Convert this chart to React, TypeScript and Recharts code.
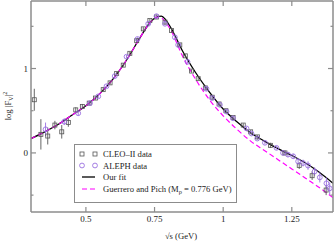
import React from "react";
import { ComposedChart, Line, Scatter, XAxis, YAxis, ErrorBar } from "recharts";

// curves (sqrt(s) in GeV, log|F_V|^2)
const fitS = [0.3, 0.35, 0.4, 0.45, 0.5, 0.55, 0.6, 0.65, 0.7, 0.73, 0.76, 0.775, 0.79, 0.81, 0.85, 0.9, 0.95, 1.0, 1.05, 1.1, 1.15, 1.2, 1.25, 1.3, 1.35, 1.4];
const fitLog = [0.17, 0.25, 0.34, 0.45, 0.56, 0.7, 0.88, 1.11, 1.38, 1.53, 1.615, 1.62, 1.58, 1.48, 1.22, 0.95, 0.72, 0.52, 0.37, 0.24, 0.14, 0.05, -0.03, -0.12, -0.23, -0.36];
const gpS = [0.3, 0.35, 0.4, 0.45, 0.5, 0.55, 0.6, 0.65, 0.7, 0.73, 0.76, 0.775, 0.79, 0.81, 0.85, 0.9, 0.95, 1.0, 1.05, 1.1, 1.15, 1.2, 1.25, 1.3, 1.35, 1.4];
const gpLog = [0.17, 0.25, 0.34, 0.45, 0.56, 0.7, 0.88, 1.11, 1.38, 1.53, 1.61, 1.6, 1.55, 1.45, 1.16, 0.87, 0.63, 0.44, 0.28, 0.14, 0.03, -0.08, -0.19, -0.3, -0.41, -0.53];

// CLEO-II points
const cleoS = [0.312, 0.336, 0.361, 0.387, 0.412, 0.436, 0.463, 0.487, 0.512, 0.535, 0.563, 0.588, 0.612, 0.636, 0.66, 0.685, 0.709, 0.733, 0.757, 0.788, 0.812, 0.842, 0.862, 0.885, 0.909, 0.935, 0.96, 0.985, 1.01, 1.036, 1.073, 1.1, 1.125, 1.172, 1.225, 1.277, 1.324, 1.375];
const cleoLog = [0.63, 0.22, 0.2, 0.33, 0.25, 0.36, 0.51, 0.55, 0.59, 0.65, 0.75, 0.83, 0.94, 1.04, 1.18, 1.33, 1.47, 1.57, 1.61, 1.55, 1.45, 1.28, 1.15, 0.97, 0.88, 0.77, 0.66, 0.58, 0.5, 0.42, 0.33, 0.25, 0.19, 0.09, 0.0, -0.15, -0.27, -0.44];
const cleoErr = [0.13, 0.18, 0.1, 0.05, 0.08, 0.05, 0.03, 0.03, 0.02, 0.02, 0.02, 0.02, 0.02, 0.02, 0.02, 0.02, 0.02, 0.02, 0.02, 0.02, 0.02, 0.02, 0.02, 0.02, 0.02, 0.02, 0.02, 0.02, 0.02, 0.02, 0.02, 0.02, 0.02, 0.03, 0.03, 0.04, 0.05, 0.06];

// ALEPH points
const alephS = [0.353, 0.421, 0.472, 0.515, 0.545, 0.575, 0.605, 0.648, 0.688, 0.727, 0.757, 0.788, 0.824, 0.836, 0.87, 0.939, 0.96, 0.988, 1.012, 1.036, 1.085, 1.103, 1.124, 1.152, 1.194, 1.218, 1.236, 1.255, 1.273, 1.291, 1.309, 1.333, 1.352, 1.376, 1.388];
const alephLog = [0.28, 0.37, 0.47, 0.59, 0.67, 0.79, 0.91, 1.14, 1.35, 1.53, 1.62, 1.53, 1.37, 1.28, 1.08, 0.76, 0.65, 0.57, 0.49, 0.41, 0.29, 0.23, 0.17, 0.12, 0.06, 0.0, -0.02, -0.04, -0.1, -0.12, -0.15, -0.22, -0.29, -0.36, -0.42];
const alephErr = [0.08, 0.04, 0.03, 0.02, 0.02, 0.02, 0.02, 0.02, 0.02, 0.02, 0.02, 0.02, 0.02, 0.02, 0.02, 0.02, 0.02, 0.02, 0.02, 0.02, 0.02, 0.02, 0.02, 0.02, 0.02, 0.03, 0.03, 0.03, 0.04, 0.04, 0.05, 0.05, 0.06, 0.07, 0.07];

const xTicks = [0.5, 0.75, 1, 1.25];
const yTicks = [-0.5, 0, 0.5, 1, 1.5];

const fitData = fitS.map((x, i) => ({ x, y: fitLog[i] }));
const gpData = gpS.map((x, i) => ({ x, y: gpLog[i] }));
const cleoData = cleoS.map((x, i) => ({ x, y: cleoLog[i], e: cleoErr[i] }));
const alephData = alephS.map((x, i) => ({ x, y: alephLog[i], e: alephErr[i] }));

const AXIS = "#8c8c8c";
const FONT = "'Liberation Serif', 'Times New Roman', serif";
const PURPLE = "#9a6fe0";

const BottomTick = (p: any) => (
  <g>
    <line x1={p.x} x2={p.x} y1={p.y} y2={p.y - 5} stroke={AXIS} strokeWidth={1.2} />
    <text x={p.x} y={p.y + 10} textAnchor="middle" fontSize={9} fill="#222" fontFamily={FONT}>
      {String(p.payload.value)}
    </text>
  </g>
);
const TopTick = (p: any) => <line x1={p.x} x2={p.x} y1={p.y} y2={p.y + 5} stroke={AXIS} strokeWidth={1.2} />;
const LeftTick = (p: any) => {
  const major = Number.isInteger(p.payload.value);
  return (
    <g>
      <line x1={p.x} x2={p.x + (major ? 5 : 2.5)} y1={p.y} y2={p.y} stroke={AXIS} strokeWidth={1.2} />
      {major && (
        <text x={p.x - 3} y={p.y + 3} textAnchor="end" fontSize={9} fill="#222" fontFamily={FONT}>
          {String(p.payload.value)}
        </text>
      )}
    </g>
  );
};
const RightTick = (p: any) => {
  const major = Number.isInteger(p.payload.value);
  return <line x1={p.x} x2={p.x - (major ? 5 : 2.5)} y1={p.y} y2={p.y} stroke={AXIS} strokeWidth={1.2} />;
};

const Square = (p: any) => (
  <rect x={p.cx - 2} y={p.cy - 2} width={4} height={4} fill="none" stroke="#555" strokeWidth={0.8} />
);
const Ring = (p: any) => <circle cx={p.cx} cy={p.cy} r={2.4} fill="none" stroke={PURPLE} strokeWidth={0.9} />;

function LegendBox() {
  const rows = [10, 21.5, 33, 45];
  return (
    <svg width={163} height={59} style={{ position: "absolute", left: 74, top: 144 }} fontFamily={FONT} fontSize={8.6}>
      <rect x={0.5} y={0.5} width={162} height={58} fill="none" stroke={AXIS} strokeWidth={1} />
      <rect x={6} y={rows[0] - 2} width={4} height={4} fill="none" stroke="#555" strokeWidth={0.8} />
      <rect x={19} y={rows[0] - 2} width={4} height={4} fill="none" stroke="#555" strokeWidth={0.8} />
      <text x={29} y={rows[0] + 3} fill="#222">CLEO–II data</text>
      <circle cx={8} cy={rows[1]} r={2.4} fill="none" stroke={PURPLE} strokeWidth={0.9} />
      <circle cx={21} cy={rows[1]} r={2.4} fill="none" stroke={PURPLE} strokeWidth={0.9} />
      <text x={29} y={rows[1] + 3} fill="#222">ALEPH data</text>
      <line x1={8} x2={21} y1={rows[2]} y2={rows[2]} stroke="#000" strokeWidth={1.3} />
      <text x={29} y={rows[2] + 3} fill="#222">Our fit</text>
      <line x1={8} x2={21} y1={rows[3]} y2={rows[3]} stroke="#ff00ff" strokeWidth={1.2} strokeDasharray="5 3" />
      <text x={29} y={rows[3] + 3} fill="#222">
        Guerrero and Pich (M<tspan dy={2} fontSize={6.5}>ρ</tspan>
        <tspan dy={-2}> = 0.776 GeV)</tspan>
      </text>
    </svg>
  );
}

export default function App() {
  return (
    <div style={{ position: "absolute", left: 0, top: 0, width: 334, height: 241 }}>
      <ComposedChart width={334} height={241} margin={{ top: 0, right: 0, bottom: 0, left: 0 }}>
        <XAxis
          xAxisId="b"
          dataKey="x"
          type="number"
          domain={[0.3, 1.4]}
          ticks={xTicks}
          interval={0}
          allowDataOverflow
          height={29}
          stroke={AXIS}
          strokeWidth={1.5}
          tickLine={false}
          tickSize={0}
          tickMargin={0}
          tick={BottomTick}
        />
        <XAxis
          xAxisId="t"
          orientation="top"
          dataKey="x"
          type="number"
          domain={[0.3, 1.4]}
          ticks={xTicks}
          interval={0}
          allowDataOverflow
          height={1}
          stroke={AXIS}
          strokeWidth={1.5}
          tickLine={false}
          tickSize={0}
          tickMargin={0}
          tick={TopTick}
        />
        <YAxis
          yAxisId="l"
          dataKey="y"
          type="number"
          domain={[-0.7, 1.8]}
          ticks={yTicks}
          interval={0}
          allowDataOverflow
          width={31}
          stroke={AXIS}
          strokeWidth={1.5}
          tickLine={false}
          tickSize={0}
          tickMargin={0}
          tick={LeftTick}
        />
        <YAxis
          yAxisId="r"
          orientation="right"
          dataKey="y"
          type="number"
          domain={[-0.7, 1.8]}
          ticks={yTicks}
          interval={0}
          allowDataOverflow
          width={1}
          stroke={AXIS}
          strokeWidth={1.5}
          tickLine={false}
          tickSize={0}
          tickMargin={0}
          tick={RightTick}
        />
        <Line
          xAxisId="b"
          yAxisId="l"
          data={fitData}
          dataKey="y"
          type="monotone"
          stroke="#000"
          strokeWidth={1.3}
          dot={false}
          isAnimationActive={false}
        />
        <Line
          xAxisId="b"
          yAxisId="l"
          data={gpData}
          dataKey="y"
          type="monotone"
          stroke="#ff00ff"
          strokeWidth={1.2}
          strokeDasharray="5 3"
          dot={false}
          isAnimationActive={false}
        />
        <Scatter xAxisId="b" yAxisId="l" data={cleoData} shape={Square} isAnimationActive={false}>
          <ErrorBar dataKey="e" direction="y" width={0} stroke="#555" strokeWidth={0.9} />
        </Scatter>
        <Scatter xAxisId="b" yAxisId="l" data={alephData} shape={Ring} isAnimationActive={false}>
          <ErrorBar dataKey="e" direction="y" width={0} stroke={PURPLE} strokeWidth={0.9} />
        </Scatter>
      </ComposedChart>
      <LegendBox />
      <svg width={20} height={60} style={{ position: "absolute", left: 0, top: 76 }} fontFamily={FONT} fontSize={8.6}>
        <text transform="translate(11,30) rotate(-90)" textAnchor="middle" fill="#222">
          log |F<tspan dy={2} fontSize={6}>V</tspan>
          <tspan dy={-2}>|</tspan>
          <tspan dy={-4} fontSize={6}>2</tspan>
        </text>
      </svg>
      <svg width={80} height={14} style={{ position: "absolute", left: 141, top: 229 }} fontFamily={FONT} fontSize={8.6}>
        <text x={40} y={10} textAnchor="middle" fill="#222">√s  (GeV)</text>
      </svg>
    </div>
  );
}
